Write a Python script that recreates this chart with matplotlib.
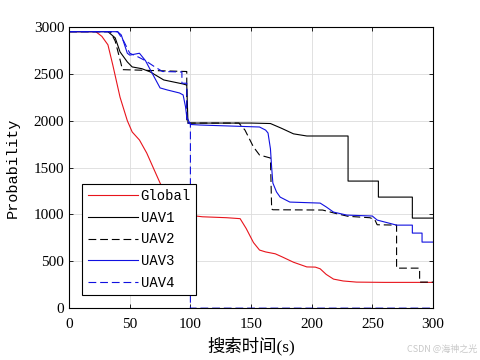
import matplotlib
matplotlib.use("Agg")
import matplotlib.pyplot as plt

plt.rcParams['font.family'] = ['Liberation Serif', 'Noto Sans CJK SC']

# data (time in s, probability)
global_t = [0, 22, 27, 32, 36, 38, 42, 48, 52, 58, 64, 70, 75, 83, 87, 93, 100, 110, 130, 141,
            146, 152, 157, 162, 170, 176, 185, 196, 203, 207, 212, 218, 226, 237, 260, 300]
global_p = [2950, 2950, 2900, 2810, 2595, 2480, 2250, 2000, 1880, 1794, 1655, 1480, 1335, 1121, 1047, 1010, 990, 975, 965, 955,
            850, 700, 620, 600, 580, 545, 490, 440, 438, 420, 360, 310, 290, 278, 275, 275]

uav1_t = [0, 32, 38, 42, 48, 52, 60, 67, 78, 94, 97, 98, 120, 150, 166, 175, 185, 196,
          230, 230, 255, 255, 283, 283, 300]
uav1_p = [2950, 2950, 2884, 2734, 2627, 2574, 2555, 2520, 2435, 2392, 2380, 1975, 1975, 1975, 1970, 1920, 1860, 1837,
          1837, 1356, 1356, 1185, 1185, 961, 961]

uav2_t = [0, 34, 38, 42, 44, 70, 97, 97, 140, 145, 152, 157, 166, 167, 168, 209, 220, 230,
          248, 252, 254, 270, 270, 289, 289, 300]
uav2_p = [2950, 2950, 2850, 2650, 2545, 2535, 2525, 1975, 1975, 1900, 1720, 1634, 1602, 1057, 1050, 1047, 1010, 980,
          965, 945, 890, 886, 427, 427, 278, 278]

uav3_t = [0, 40, 43, 48, 50, 58, 63, 67, 75, 81, 91, 94, 96, 97, 100, 108, 157, 162, 164, 166,
          167, 168, 171, 174, 182, 207, 212, 218, 229, 250, 254, 270, 283, 283, 291, 291, 300]
uav3_p = [2950, 2950, 2915, 2720, 2700, 2720, 2640, 2542, 2350, 2328, 2296, 2275, 2147, 2040, 1960, 1954, 1933, 1900, 1869, 1700,
          1500, 1335, 1240, 1185, 1132, 1121, 1080, 1025, 993, 983, 940, 886, 886, 801, 801, 705, 705]

uav4_t = [0, 40, 45, 50, 57, 63, 70, 77, 93, 93, 97, 97, 100, 100, 300]
uav4_p = [2950, 2950, 2850, 2720, 2680, 2640, 2580, 2525, 2520, 2400, 2400, 1975, 1975, 0, 0]

labels = ['Global', 'UAV1', 'UAV2', 'UAV3', 'UAV4']
xticks = [0, 50, 100, 150, 200, 250, 300]
yticks = [0, 500, 1000, 1500, 2000, 2500, 3000]

fig = plt.figure(figsize=(4.8, 3.6), dpi=100)
ax = fig.add_axes([0.144, 0.144, 0.758, 0.781])

dash = (0, (7, 3.5))
ax.plot(global_t, global_p, color='#e8141c', lw=0.8, label=labels[0])
ax.plot(uav1_t, uav1_p, color='k', lw=0.8, label=labels[1])
ax.plot(uav2_t, uav2_p, color='k', lw=0.8, linestyle=dash, label=labels[2])
ax.plot(uav3_t, uav3_p, color='#1010e0', lw=0.8, label=labels[3])
ax.plot(uav4_t, uav4_p, color='#1010e0', lw=0.8, linestyle=dash, label=labels[4])

ax.set_xlim(0, 300)
ax.set_ylim(0, 3000)
ax.set_xticks(xticks)
ax.set_yticks(yticks)
ax.tick_params(direction='in', top=True, right=True, labelsize=11, length=3, width=0.6)
ax.tick_params(axis='x', pad=7)
for lab in ax.get_xticklabels() + ax.get_yticklabels():
    lab.set_family(['Liberation Serif'])
ax.grid(True, color='#dcdcdc', lw=0.6)
ax.set_axisbelow(True)
for s in ax.spines.values():
    s.set_linewidth(0.8)

ax.set_xlabel('搜索时间(s)', fontsize=12.5, labelpad=4, family=['Liberation Serif', 'Noto Sans CJK SC'])
ax.set_ylabel('Probability', fontsize=11, family=['Liberation Mono'], labelpad=10)

leg = ax.legend(loc='lower left', bbox_to_anchor=(0.036, 0.046), borderaxespad=0,
                prop={'family': 'Liberation Mono', 'size': 10}, handlelength=3.6,
                labelspacing=0.55, fancybox=False, framealpha=1, edgecolor='k',
                handletextpad=0.2, borderpad=0.4)
leg.get_frame().set_linewidth(0.8)

fig.text(0.995, 0.03, 'CSDN @海神之光', color='#c8c8c8', fontsize=6.5, ha='right', va='center',
         family=['Noto Sans CJK SC'])

fig.savefig('out.png', dpi=100)
